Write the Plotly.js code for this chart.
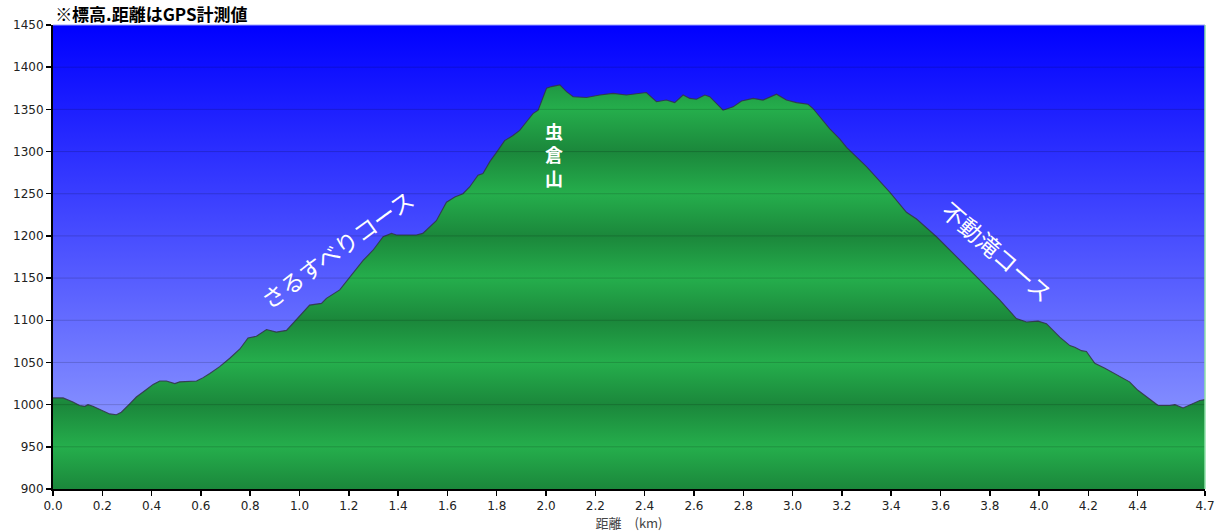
<!DOCTYPE html>
<html>
<head>
<meta charset="utf-8">
<script src="https://cdn.plot.ly/plotly-3.0.1.min.js"></script>
<style>html,body{margin:0;padding:0;background:#fff;}#chart{width:1225px;height:532px;}</style>
</head>
<body>
<div id="chart"></div>
<script>
// distance (km) along the route
const distKm = [
  0.000,0.041,0.081,0.108,0.129,0.142,0.162,0.203,0.230,0.257,0.277,0.311,0.338,0.379,0.406,0.433,0.460,0.494,0.514,0.582,
  0.609,0.636,0.676,0.717,0.758,0.791,0.825,0.866,0.906,0.947,0.987,1.041,1.089,1.109,1.163,1.204,1.258,1.298,1.339,1.373,
  1.393,1.474,1.500,1.555,1.596,1.630,1.663,1.690,1.724,1.744,1.772,1.799,1.832,1.866,1.893,1.920,1.947,1.968,2.002,2.022,
  2.056,2.083,2.110,2.164,2.218,2.272,2.326,2.407,2.448,2.488,2.522,2.556,2.583,2.610,2.644,2.664,2.684,2.718,2.759,2.793,
  2.840,2.880,2.935,2.975,3.016,3.063,3.083,3.110,3.151,3.191,3.219,3.300,3.394,3.462,3.503,3.584,3.665,3.760,3.841,3.908,
  3.949,3.996,4.030,4.084,4.125,4.145,4.172,4.192,4.226,4.267,4.320,4.367,4.401,4.448,4.483,4.530,4.551,4.584,4.625,4.652,
  4.673
];
// elevation (m)
const elevM = [
  1008,1008,1003,999,998,1000,998,993,989,988,991,1001,1009,1018,1024,1028,1028,1025,1027,1028,
  1032,1037,1045,1055,1066,1079,1081,1089,1086,1088,1101,1118,1120,1126,1136,1151,1171,1183,1199,1203,
  1201,1201,1203,1218,1240,1246,1250,1258,1272,1274,1288,1299,1313,1319,1325,1335,1345,1349,1375,1377,
  1379,1371,1365,1364,1367,1369,1367,1370,1359,1361,1358,1367,1363,1362,1367,1365,1359,1349,1353,1360,
  1363,1361,1368,1361,1358,1356,1351,1341,1327,1315,1305,1282,1252,1228,1220,1199,1175,1147,1124,1102,
  1098,1099,1096,1080,1070,1068,1064,1063,1049,1043,1035,1027,1017,1007,999,999,1000,996,1001,1005,
  1006
];
const xTickVals = [0,0.2,0.4,0.6,0.8,1.0,1.2,1.4,1.6,1.8,2.0,2.2,2.4,2.6,2.8,3.0,3.2,3.4,3.6,3.8,4.0,4.2,4.4,4.673];
const xTickText = ["0.0","0.2","0.4","0.6","0.8","1.0","1.2","1.4","1.6","1.8","2.0","2.2","2.4","2.6","2.8","3.0","3.2","3.4","3.6","3.8","4.0","4.2","4.4","4.7"];
const yTickVals = [900,950,1000,1050,1100,1150,1200,1250,1300,1350,1400,1450];
const peakLabel = "虫<br>倉<br>山";
const courseLabels = ["さるすべりコース","不動滝コース"];
const titleText = "※標高.距離はGPS計測値";
const xTitle = "距離　(km)";

const yMin = yTickVals[0], yMax = yTickVals[yTickVals.length-1];
const xMax = distKm[distKm.length-1];

// banded green colorscale: dark at each 100 m, light at each 50 m
const dark = "#1b873b", light = "#25ae4c";
const greenScale = yTickVals.map(v => [(v - yMin)/(yMax - yMin), (v % 100 === 0) ? dark : light]);

const sky = {
  x: [0, xMax], y: [yMax, yMax], type: "scatter", mode: "lines",
  line: {width: 0}, fill: "tozeroy",
  fillgradient: {type: "vertical", start: yMin, stop: yMax,
    colorscale: [[0, "rgb(158,170,255)"], [1, "rgb(0,0,255)"]]},
  hoverinfo: "skip", showlegend: false
};
const profile = {
  x: distKm, y: elevM, type: "scatter", mode: "lines",
  line: {color: "rgba(50,50,70,0.85)", width: 1.1},
  fill: "tozeroy",
  fillgradient: {type: "vertical", start: yMin, stop: yMax, colorscale: greenScale},
  hoverinfo: "skip", showlegend: false
};

const shapes = yTickVals.slice(1, -1).map(v => ({
  type: "line", xref: "paper", x0: 0, x1: 1, yref: "y", y0: v, y1: v,
  line: {color: "rgba(0,0,0,0.16)", width: 1}, layer: "above"
}));
shapes.push({type: "line", xref: "paper", x0: 0, x1: 1, yref: "paper", y0: 1, y1: 1,
  line: {color: "#9aa0ff", width: 1}, layer: "above"});
shapes.push({type: "line", xref: "paper", x0: 1, x1: 1, yref: "paper", y0: 0, y1: 1,
  line: {color: "#8fe0a8", width: 1.5}, layer: "above"});

const annotations = [];
annotations.push({
  x: 2.031, y: 1297, xref: "x", yref: "y", text: peakLabel, showarrow: false,
  font: {family: "Noto Sans CJK JP", size: 18, color: "#ffffff", weight: "bold"}
});
annotations.push({
  x: 1.150, y: 1185, xref: "x", yref: "y", text: courseLabels[0], showarrow: false,
  textangle: -36, font: {family: "Noto Sans CJK JP", size: 23, color: "#ffffff"}
});
annotations.push({
  x: 3.830, y: 1182, xref: "x", yref: "y", text: courseLabels[1], showarrow: false,
  textangle: 41, font: {family: "Noto Sans CJK JP", size: 23, color: "#ffffff"}
});

const layout = {
  width: 1225, height: 532,
  margin: {l: 53, r: 20, t: 25, b: 43, pad: 0},
  paper_bgcolor: "#ffffff", plot_bgcolor: "#ffffff",
  showlegend: false, hovermode: false,
  title: {text: titleText, x: 0.045, xanchor: "left", xref: "container",
    y: 0.972, yanchor: "middle", yref: "container",
    font: {family: "Noto Sans CJK JP", size: 17, color: "#000000", weight: "bold"}},
  xaxis: {
    range: [0, xMax], tickmode: "array", tickvals: xTickVals, ticktext: xTickText,
    showgrid: false, zeroline: false, showline: true, linecolor: "#000000", linewidth: 2,
    ticks: "outside", ticklen: 5, tickwidth: 1.5, tickcolor: "#000000",
    tickfont: {family: "DejaVu Sans", size: 12, color: "#222222"},
    title: {text: xTitle, standoff: 4, font: {family: "Noto Sans CJK JP", size: 13, color: "#444444"}},
    fixedrange: true
  },
  yaxis: {
    range: [yMin, yMax], tickmode: "array", tickvals: yTickVals,
    showgrid: false, zeroline: false, showline: true, linecolor: "#000000", linewidth: 2,
    ticks: "outside", ticklen: 5, tickwidth: 1.5, tickcolor: "#000000",
    tickfont: {family: "DejaVu Sans", size: 12, color: "#222222"},
    fixedrange: true
  },
  shapes: shapes,
  annotations: annotations
};

Plotly.newPlot("chart", [sky, profile], layout, {displayModeBar: false, staticPlot: true});
</script>
</body>
</html>
